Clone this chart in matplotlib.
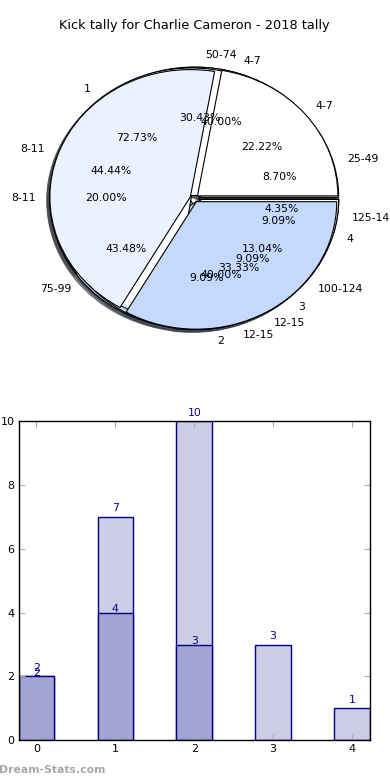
import numpy as np
import matplotlib
matplotlib.use('Agg')
import matplotlib.pyplot as plt

# pie data (four pies drawn on top of each other)
labels_a = ['25-49', '50-74', '75-99', '100-124', '125-149']
values_a = [2, 7, 10, 3, 1]
labels_d = ['4-7', '8-11', '12-15']
values_d = [2, 1, 2]
labels_c = ['1', '2', '3', '4']
values_c = [8, 1, 1, 1]
labels_b = ['4-7', '8-11', '12-15']
values_b = [2, 4, 3]

# bar data
bar_x = [0, 1, 2, 3, 4]
bar_light = [2, 7, 10, 3, 1]
bar_dark_x = [0, 1, 2]
bar_dark = [2, 4, 3]

title = 'Kick tally for Charlie Cameron - 2018 tally'
pie_colors = ['white', '#ebf1ff', '#c5d9ff']
edge = '#00008b'

fig, (ax1, ax2) = plt.subplots(2, 1, figsize=(3.9, 7.8), dpi=100)
fig.subplots_adjust(left=0.048, right=0.948, bottom=0.051, top=0.95, hspace=0.2)

# pies
for vals, labs in [(values_a, labels_a), (values_d, labels_d),
                   (values_c, labels_c), (values_b, labels_b)]:
    cols = [pie_colors[i % 3] for i in range(len(vals))]
    ax1.pie(vals, labels=labs, colors=cols, explode=[0.03] * len(vals),
            autopct='%1.2f%%', startangle=0,
            shadow=dict(ox=-0.015, oy=-0.015, alpha=0.6),
            wedgeprops=dict(edgecolor='black', linewidth=0.8),
            textprops=dict(fontsize=7.8))
ax1.set_aspect('auto')
ax1.set_xlim(-1.25, 1.25)
ax1.set_ylim(-1.25, 1.25)
ax1.set_title(title, fontsize=9.3, pad=7)

# bars
ax2.bar(bar_x, bar_light, width=0.45, color='#cccde4', edgecolor=edge, linewidth=1)
ax2.bar(bar_dark_x, bar_dark, width=0.45, color='#a3a4d1', edgecolor=edge, linewidth=1)
for x, h in zip(bar_x, bar_light):
    ax2.text(x, h + 0.12, str(h), ha='center', va='bottom', color=edge, fontsize=7.8)
for x, h in zip(bar_dark_x, bar_dark):
    ax2.text(x, h - 0.05, str(h), ha='center', va='bottom', color=edge, fontsize=7.8)
ax2.set_xlim(-0.225, 4.225)
ax2.set_ylim(0, 10)
ax2.set_xticks(bar_x)
ax2.set_yticks(np.arange(0, 11, 2))
ax2.tick_params(direction='in', top=True, right=True, labelsize=8, length=4,
                color='#aaaaaa', pad=3)
for s in ax2.spines.values():
    s.set_linewidth(1)

fig.text(-0.003, 0.006, 'Dream-Stats.com', color='#a8a8a8', fontsize=7.8,
         fontweight='bold', ha='left', va='bottom')

fig.savefig('out.png', dpi=100)
